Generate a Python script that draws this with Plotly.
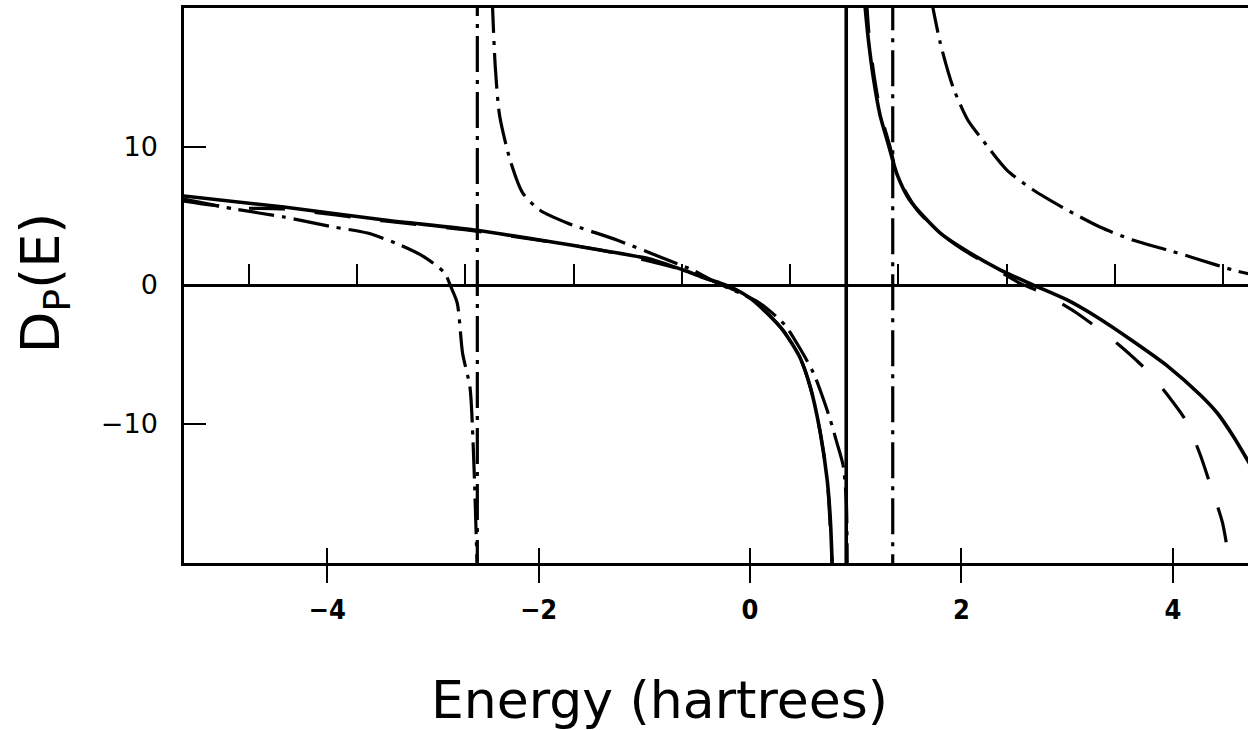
import plotly.graph_objects as go

# ---- axis ranges (hartrees / dimensionless) ----
x_range = [-5.355, 4.711]
y_range = [-20.07, 20.0]

# ---- tick labels ----
x_tick_vals = [-4, -2, 0, 2, 4]
x_tick_text = ["\u22124", "\u22122", "0", "2", "4"]
y_tick_vals = [-10, 0, 10]
y_tick_text = ["\u221210", "0", "10"]
zero_tick_start = -4.74
zero_tick_step = 1.024

# ---- solid curve (branches separated by None; pole line at E=0.91) ----
solid_E = [-5.36, -4.41, -3.46, -2.61, -1.99, -1.42, -0.95, -0.63, -0.43, -0.28,
           -0.16, 0.0, 0.16, 0.31, 0.47, 0.57, 0.66, 0.73, 0.76, 0.78,
           None, 0.91, 0.91, None,
           1.08, 1.12, 1.17, 1.23, 1.31, 1.39, 1.51, 1.80, 1.99, 2.37, 2.68,
           3.00, 3.31, 3.62, 3.95, 4.26, 4.42, 4.57, 4.73]
solid_D = [6.43, 5.63, 4.69, 3.97, 3.25, 2.53, 1.88, 1.08, 0.51, 0.14,
           -0.22, -0.94, -2.02, -3.25, -5.20, -7.36, -10.47, -14.08, -16.97, -20.8,
           None, -21.0, 21.0, None,
           20.8, 17.69, 14.80, 12.27, 10.11, 8.01, 6.14, 3.75, 2.74, 1.08, 0.0,
           -1.08, -2.45, -4.04, -5.85, -7.94, -9.24, -10.90, -12.95]

# ---- dashed curve ----
dashed_E = [-5.36, -5.11, -4.82, -4.41, -3.46, -2.61, -1.42, -0.63, -0.28,
            0.0, 0.31, 0.47, 0.57, 0.66, 0.73, 0.78,
            None,
            1.10, 1.13, 1.18, 1.24, 1.32, 1.40, 1.58, 1.80, 1.99, 2.37, 2.55,
            2.77, 3.09, 3.48, 3.77, 3.95, 4.12, 4.26, 4.37, 4.47, 4.55]
dashed_D = [6.06, 5.78, 5.56, 5.49, 4.62, 3.90, 2.53, 1.08, 0.07,
            -0.94, -3.25, -5.20, -7.36, -10.47, -14.08, -20.8,
            None,
            20.8, 17.69, 14.80, 12.27, 10.11, 7.80, 5.42, 3.75, 2.67, 0.94, 0.14,
            -0.58, -2.02, -4.26, -6.28, -7.94, -9.75, -12.27, -14.80, -17.18, -20.8]

# ---- dash-dot curve (pole lines at E=-2.58 and E=1.35) ----
dashdot_E = [-5.36, -4.88, -4.41, -3.94, -3.62, -3.31, -3.08, -2.89, -2.83, -2.77,
             -2.72, -2.65, -2.62, -2.60, -2.58,
             None, -2.58, -2.58, None,
             -2.44, -2.41, -2.37, -2.27, -2.15, -1.99, -1.73, -1.26, -0.85, -0.54,
             -0.31, -0.16, 0.09, 0.33, 0.47, 0.60, 0.68, 0.76, 0.82, 0.88, 0.91, 0.92,
             None, 1.35, 1.35, None,
             1.71, 1.80, 1.92, 2.06, 2.20, 2.43, 2.68, 3.00, 3.31, 3.62,
             3.95, 4.26, 4.57, 4.73]
dashdot_D = [6.21, 5.49, 4.91, 4.19, 3.75, 2.89, 2.02, 0.87, -0.14, -1.30,
             -4.91, -7.36, -11.41, -15.74, -20.8,
             None, -21.0, 21.0, None,
             20.8, 15.74, 12.27, 9.03, 6.64, 5.42, 4.48, 3.25, 2.02, 1.08,
             0.14, -0.36, -1.30, -2.89, -4.55, -6.35, -7.94, -9.75, -11.34, -13.0, -15.5, -20.8,
             None, 21.0, -21.0, None,
             20.8, 17.47, 14.30, 11.91, 10.47, 8.30, 6.86, 5.42, 4.19, 3.25,
             2.53, 1.81, 1.08, 0.79]

FONT = "DejaVu Sans"

fig = go.Figure()
fig.add_trace(go.Scatter(x=solid_E, y=solid_D, mode="lines", name="solid",
                         line=dict(color="black", width=3.6, shape="spline", smoothing=0.7),
                         connectgaps=False))
fig.add_trace(go.Scatter(x=dashed_E, y=dashed_D, mode="lines", name="dashed",
                         line=dict(color="black", width=3.2, dash="36px,30px",
                                   shape="spline", smoothing=0.7),
                         connectgaps=False))
fig.add_trace(go.Scatter(x=dashdot_E, y=dashdot_D, mode="lines", name="dash-dot",
                         line=dict(color="black", width=3.2, dash="36px,8px,4px,8px",
                                   shape="spline", smoothing=0.7),
                         connectgaps=False))
# helper traces so the overlay axes are drawn
fig.add_trace(go.Scatter(x=[x_range[0]], y=[0], mode="lines", xaxis="x2",
                         hoverinfo="skip", showlegend=False))
fig.add_trace(go.Scatter(x=[x_range[0]], y=[0], mode="lines", xaxis="x3",
                         hoverinfo="skip", showlegend=False))

zero_pos = -y_range[0] / (y_range[1] - y_range[0])

fig.update_layout(
    width=1248, height=730,
    margin=dict(l=184, r=0, t=8, b=167),
    paper_bgcolor="white", plot_bgcolor="white",
    showlegend=False,
    font=dict(family=FONT, color="black"),
    xaxis=dict(range=x_range, showline=True, mirror=True, linecolor="black", linewidth=2.5,
               ticks="outside", ticklen=17, tickwidth=1.5, tickcolor="black",
               tickvals=x_tick_vals, ticktext=x_tick_text,
               tickfont=dict(size=27, family="DejaVu Sans Condensed", weight="bold"),
               ticklabelstandoff=4,
               showgrid=False, zeroline=False),
    xaxis2=dict(range=x_range, overlaying="x", anchor="y", side="bottom",
                ticks="inside", ticklen=15, tickwidth=1.5, tickcolor="black",
                tickvals=x_tick_vals, showticklabels=False,
                showline=False, showgrid=False, zeroline=False),
    xaxis3=dict(range=x_range, overlaying="x", anchor="free", position=zero_pos, side="bottom",
                showline=True, linecolor="black", linewidth=2.5,
                ticks="inside", ticklen=20, tickwidth=2, tickcolor="black",
                tick0=zero_tick_start, dtick=zero_tick_step, showticklabels=False,
                showgrid=False, zeroline=False),
    yaxis=dict(range=y_range, showline=True, mirror=False, linecolor="black", linewidth=2.5,
               ticks="inside", ticklen=22, tickwidth=2, tickcolor="black",
               tickvals=y_tick_vals, ticktext=y_tick_text,
               tickfont=dict(size=27, family=FONT), ticklabelstandoff=18,
               showgrid=False, zeroline=False),
    annotations=[
        dict(text="Energy (hartrees)", xref="paper", yref="paper", x=0.447, y=-0.247,
             xanchor="center", yanchor="middle", showarrow=False,
             font=dict(size=52, family=FONT)),
        dict(text="D<sub>P</sub>(E)", xref="paper", yref="paper", x=-0.132, y=0.505,
             xanchor="center", yanchor="middle", showarrow=False, textangle=-90,
             font=dict(size=54, family=FONT)),
    ],
)

fig.write_html("out.html")
